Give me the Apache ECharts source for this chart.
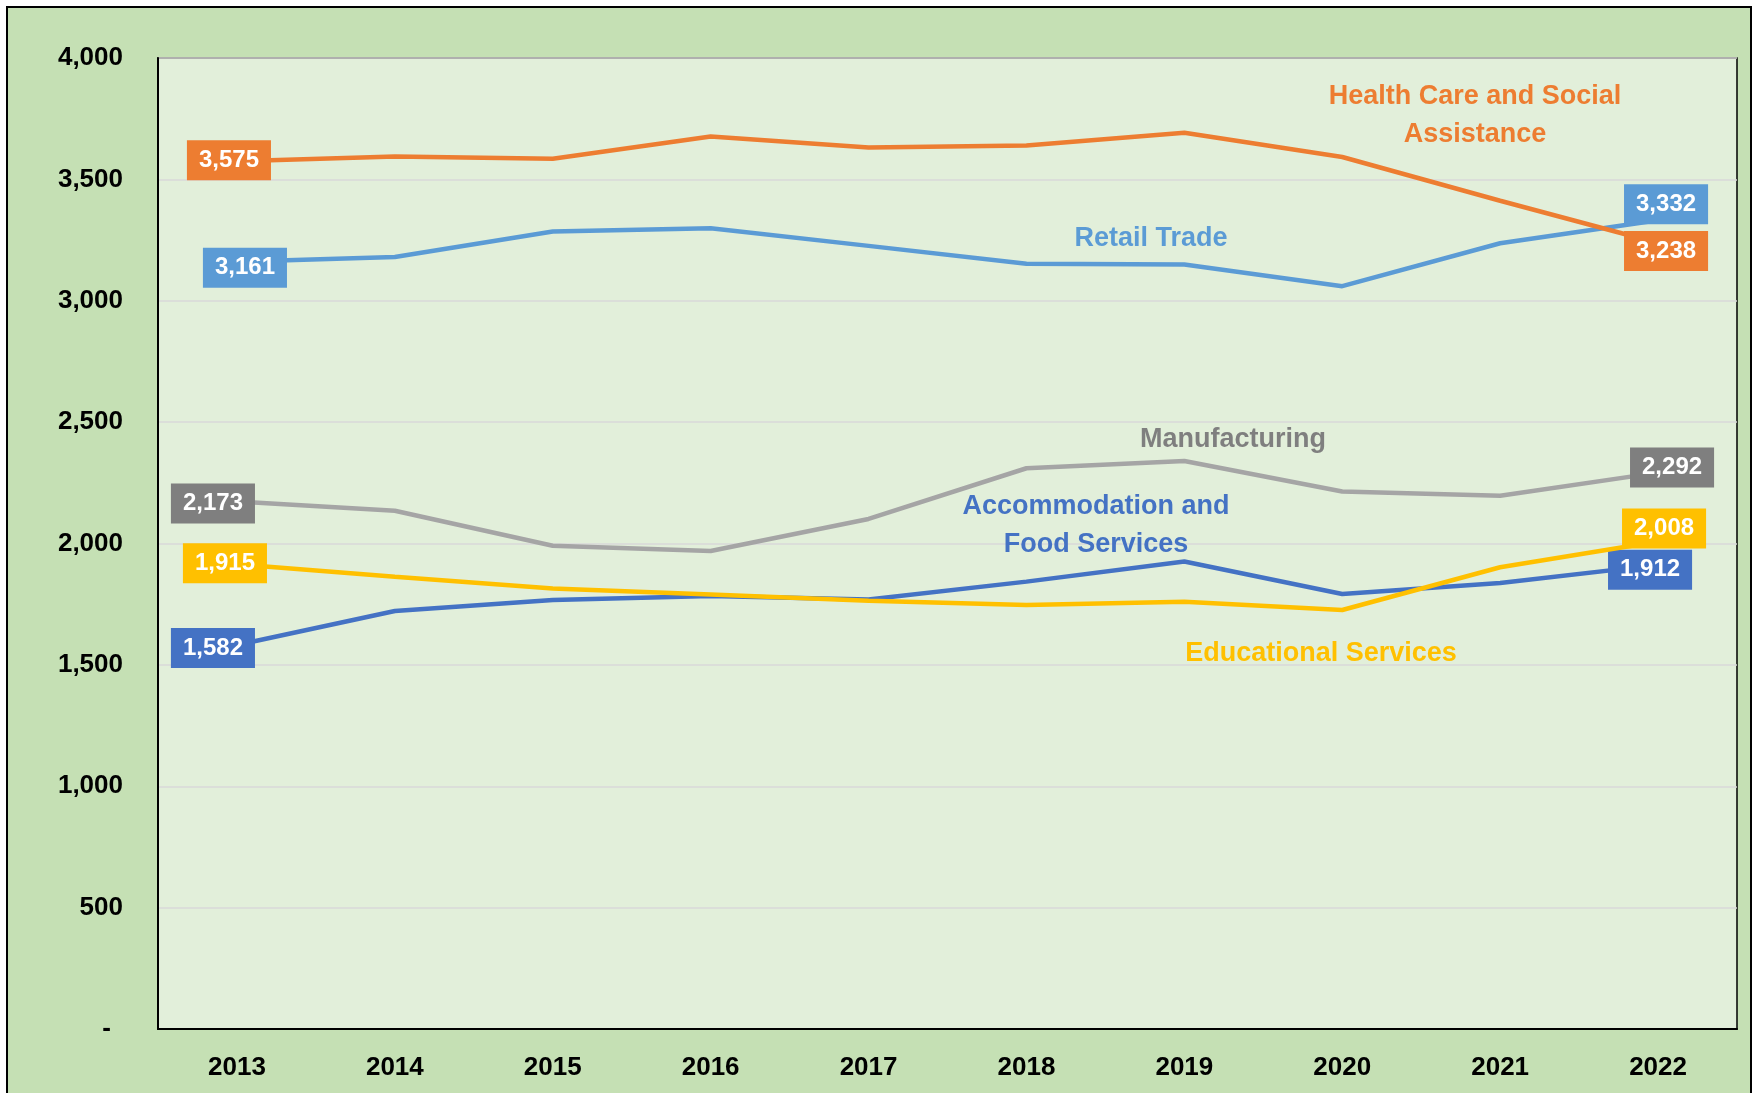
<!DOCTYPE html>
<html>
<head>
<meta charset="utf-8">
<script src="https://cdn.jsdelivr.net/npm/echarts@6/dist/echarts.min.js"></script>
<style>
  html, body { margin: 0; padding: 0; background: #fff; overflow: hidden; }
  #frame {
    position: absolute; left: 6px; top: 6px;
    width: 1742px; height: 1100px;
    border: 2px solid #000; background: #c5e0b4;
  }
  #chart { position: absolute; left: 0; top: 0; width: 1754px; height: 1093px; }
</style>
</head>
<body>
<div id="frame"></div>
<div id="chart"></div>
<script>
const years = ['2013', '2014', '2015', '2016', '2017', '2018', '2019', '2020', '2021', '2022']
const healthCare = [3575, 3594, 3585, 3677, 3631, 3640, 3692, 3592, 3412, 3238]
const retailTrade = [3161, 3180, 3285, 3299, 3226, 3152, 3149, 3060, 3237, 3332]
const manufacturing = [2173, 2135, 1991, 1969, 2101, 2310, 2340, 2214, 2197, 2292]
const accommodation = [1582, 1722, 1767, 1784, 1769, 1843, 1926, 1792, 1837, 1912]
const educational = [1915, 1863, 1815, 1790, 1764, 1747, 1760, 1726, 1902, 2008]

const FONT = '"Liberation Sans", Arial, sans-serif'

// first / last value boxes, offsets in px from the point
function makeSeries(name, values, lineColor, boxColor, firstOffset, lastOffset, z) {
  const last = values.length - 1
  return {
    name,
    type: 'line',
    z,
    symbol: 'circle',
    symbolSize: 1,
    itemStyle: { color: lineColor },
    lineStyle: { color: lineColor, width: 4.5 },
    emphasis: { disabled: true },
    data: values.map((v, i) => {
      if (i !== 0 && i !== last) return v
      return {
        value: v,
        label: {
          show: true,
          position: 'inside',
          offset: i === 0 ? firstOffset : lastOffset,
          formatter: p => p.value.toLocaleString('en-US'),
          color: '#fff',
          fontFamily: FONT,
          fontWeight: 'bold',
          fontSize: 24,
          lineHeight: 26,
          backgroundColor: boxColor,
          padding: [7, 12, 7, 12]
        }
      }
    })
  }
}

const chart = echarts.init(document.getElementById('chart'))

const annotation = (text, x, y, color, extra) => ({
  type: 'text',
  x, y,
  z: 100,
  style: Object.assign({
    text,
    fill: color,
    font: 'bold 27px ' + FONT,
    textAlign: 'center',
    textVerticalAlign: 'middle',
    lineHeight: 38
  }, extra || {})
})

chart.setOption({
  backgroundColor: 'transparent',
  animation: false,
  grid: {
    left: 158, right: 17, top: 58, bottom: 64,
    show: true,
    backgroundColor: '#e2efda',
    borderColor: '#000',
    borderWidth: 1.5
  },
  xAxis: {
    type: 'category',
    data: years,
    boundaryGap: true,
    axisTick: { show: false },
    axisLine: { show: true, lineStyle: { color: '#000', width: 2 } },
    axisLabel: {
      color: '#000', fontFamily: FONT, fontWeight: 'bold', fontSize: 26, margin: 26
    }
  },
  yAxis: {
    type: 'value',
    min: 0,
    max: 4000,
    interval: 500,
    axisTick: { show: false },
    axisLine: { show: true, lineStyle: { color: '#000', width: 2 } },
    splitLine: { lineStyle: { color: '#d9d9d9', width: 1.5 } },
    axisLabel: {
      color: '#000', fontFamily: FONT, fontWeight: 'bold', fontSize: 26, margin: 35,
      formatter: v => v === 0 ? '{dash|-}' : v.toLocaleString('en-US'),
      rich: {
        dash: { color: '#000', fontFamily: FONT, fontWeight: 'bold', fontSize: 26, padding: [0, 12, 0, 0] }
      }
    }
  },
  series: [
    makeSeries('Accommodation and Food Services', accommodation, '#4472c4', '#4472c4', [-24, 3], [-8, 5], 2),
    makeSeries('Educational Services', educational, '#ffc000', '#ffc000', [-12, -1], [6, -13], 3),
    makeSeries('Manufacturing', manufacturing, '#a5a5a5', '#7f7f7f', [-24, 2], [14, -5], 2),
    makeSeries('Retail Trade', retailTrade, '#5b9bd5', '#5b9bd5', [8, 6], [8, -16], 3),
    makeSeries('Health Care and Social Assistance', healthCare, '#ed7d31', '#ed7d31', [-8, -1], [8, 8], 4)
  ],
  graphic: [
    annotation('Health Care and Social\nAssistance', 1475, 116, '#ed7d31'),
    annotation('Retail Trade', 1151, 239, '#5b9bd5'),
    annotation('Manufacturing', 1233, 440, '#7f7f7f'),
    annotation('Accommodation and\nFood Services', 1096, 526, '#4472c4'),
    annotation('Educational Services', 1321, 654, '#ffc000', {
      shadowColor: 'rgba(0,0,0,0.5)', shadowBlur: 3, shadowOffsetX: 2, shadowOffsetY: 2
    })
  ]
})
</script>
</body>
</html>
